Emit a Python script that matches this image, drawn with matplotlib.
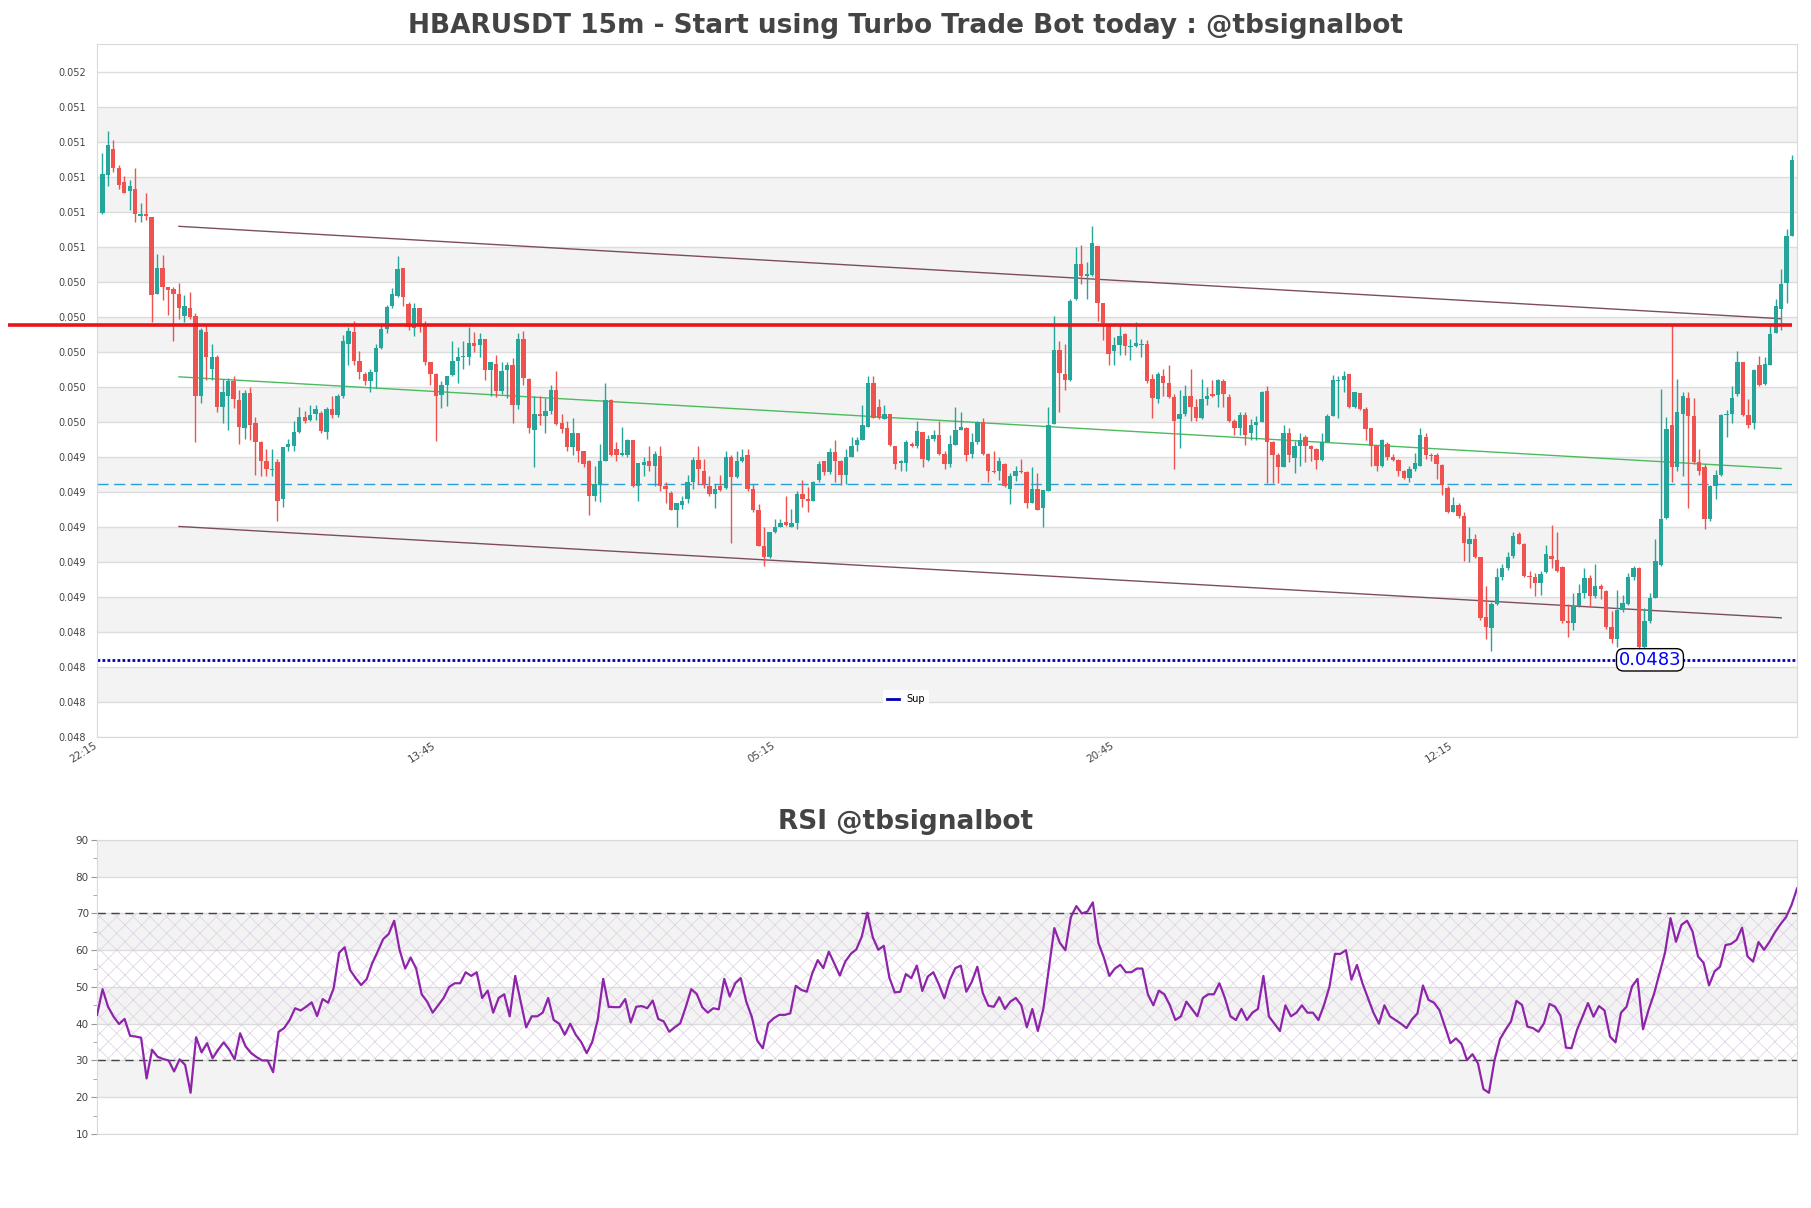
import matplotlib
matplotlib.use('Agg')
import matplotlib.pyplot as plt
import matplotlib.transforms as mtransforms
from matplotlib.lines import Line2D
import numpy as np

title = 'HBARUSDT 15m - Start using Turbo Trade Bot today : @tbsignalbot'
rsi_title = 'RSI @tbsignalbot'

# 15m candles
opens = [
    0.050794, 0.051013, 0.051162, 0.051053, 0.050974, 0.050920, 0.050933, 0.050779, 0.050787, 0.050773,
    0.050329, 0.050480, 0.050370, 0.050360, 0.050333, 0.050206, 0.050251, 0.050204, 0.049750, 0.050116,
    0.049903, 0.049971, 0.049688, 0.049750, 0.049836, 0.049725, 0.049565, 0.049768, 0.049592, 0.049484,
    0.049375, 0.049324, 0.049371, 0.049162, 0.049457, 0.049461, 0.049541, 0.049631, 0.049610, 0.049647,
    0.049651, 0.049541, 0.049674, 0.049641, 0.049750, 0.050046, 0.050114, 0.049950, 0.049877, 0.049836,
    0.049883, 0.050022, 0.050132, 0.050261, 0.050319, 0.050480, 0.050276, 0.050139, 0.050251, 0.050159,
    0.049944, 0.049872, 0.049754, 0.049811, 0.049868, 0.049950, 0.049971, 0.049971, 0.050050, 0.050040,
    0.050073, 0.049899, 0.049930, 0.049776, 0.049899, 0.049928, 0.049698, 0.050073, 0.049846, 0.049555,
    0.049647, 0.049633, 0.049662, 0.049784, 0.049596, 0.049565, 0.049457, 0.049535, 0.049432, 0.049375,
    0.049176, 0.049248, 0.049375, 0.049723, 0.049443, 0.049412, 0.049412, 0.049498, 0.049232, 0.049354,
    0.049375, 0.049350, 0.049406, 0.049232, 0.049197, 0.049095, 0.049125, 0.049162, 0.049258, 0.049381,
    0.049320, 0.049232, 0.049191, 0.049232, 0.049221, 0.049402, 0.049285, 0.049375, 0.049412, 0.049217,
    0.049095, 0.048890, 0.048828, 0.048972, 0.049002, 0.049027, 0.049002, 0.049023, 0.049191, 0.049162,
    0.049150, 0.049268, 0.049375, 0.049314, 0.049428, 0.049375, 0.049299, 0.049402, 0.049469, 0.049498,
    0.049572, 0.049821, 0.049688, 0.049617, 0.049647, 0.049463, 0.049367, 0.049367, 0.049473, 0.049463,
    0.049545, 0.049381, 0.049504, 0.049524, 0.049418, 0.049361, 0.049469, 0.049555, 0.049565, 0.049416,
    0.049484, 0.049600, 0.049416, 0.049320, 0.049320, 0.049361, 0.049217, 0.049293, 0.049320, 0.049314,
    0.049135, 0.049217, 0.049109, 0.049203, 0.049586, 0.050010, 0.049872, 0.049842, 0.050302, 0.050501,
    0.050435, 0.050439, 0.050603, 0.050278, 0.050153, 0.050005, 0.050042, 0.050104, 0.050026, 0.050036,
    0.050042, 0.050046, 0.049846, 0.049729, 0.049862, 0.049821, 0.049743, 0.049617, 0.049647, 0.049750,
    0.049688, 0.049621, 0.049729, 0.049760, 0.049756, 0.049832, 0.049743, 0.049606, 0.049565, 0.049641,
    0.049535, 0.049580, 0.049600, 0.049776, 0.049484, 0.049412, 0.049340, 0.049535, 0.049395, 0.049463,
    0.049514, 0.049463, 0.049443, 0.049381, 0.049484, 0.049637, 0.049832, 0.049842, 0.049872, 0.049688,
    0.049764, 0.049674, 0.049565, 0.049463, 0.049350, 0.049473, 0.049402, 0.049381, 0.049320, 0.049279,
    0.049330, 0.049350, 0.049514, 0.049412, 0.049412, 0.049354, 0.049224, 0.049088, 0.049125, 0.049060,
    0.048900, 0.048931, 0.048828, 0.048487, 0.048425, 0.048562, 0.048716, 0.048767, 0.048835, 0.048962,
    0.048904, 0.048720, 0.048712, 0.048679, 0.048740, 0.048835, 0.048814, 0.048773, 0.048460, 0.048454,
    0.048548, 0.048624, 0.048706, 0.048603, 0.048665, 0.048634, 0.048429, 0.048358, 0.048527, 0.048562,
    0.048712, 0.048767, 0.048317, 0.048460, 0.048597, 0.048781, 0.049054, 0.049580, 0.049340, 0.049647,
    0.049739, 0.049637, 0.049371, 0.049340, 0.049043, 0.049232, 0.049299, 0.049641, 0.049647, 0.049760,
    0.049940, 0.049641, 0.049592, 0.049924, 0.049817, 0.049928, 0.050108, 0.050247, 0.050394, 0.050665,
]
highs = [
    0.051137, 0.051260, 0.051209, 0.051070, 0.051008, 0.050984, 0.051053, 0.050853, 0.050906, 0.050773,
    0.050558, 0.050554, 0.050374, 0.050374, 0.050394, 0.050323, 0.050343, 0.050220, 0.050139, 0.050153,
    0.050046, 0.049985, 0.049846, 0.049852, 0.049862, 0.049780, 0.049780, 0.049801, 0.049627, 0.049494,
    0.049443, 0.049443, 0.049391, 0.049457, 0.049504, 0.049606, 0.049688, 0.049662, 0.049698, 0.049698,
    0.049662, 0.049688, 0.049750, 0.049760, 0.050098, 0.050143, 0.050179, 0.050005, 0.049887, 0.049903,
    0.050046, 0.050163, 0.050268, 0.050368, 0.050548, 0.050480, 0.050288, 0.050282, 0.050251, 0.050179,
    0.049944, 0.049879, 0.049832, 0.049862, 0.050063, 0.050026, 0.050063, 0.050145, 0.050112, 0.050108,
    0.050077, 0.049944, 0.049985, 0.049944, 0.049944, 0.049965, 0.050108, 0.050118, 0.049852, 0.049750,
    0.049750, 0.049735, 0.049811, 0.049891, 0.049647, 0.049606, 0.049621, 0.049535, 0.049436, 0.049381,
    0.049350, 0.049473, 0.049821, 0.049729, 0.049484, 0.049572, 0.049504, 0.049498, 0.049365, 0.049402,
    0.049463, 0.049436, 0.049463, 0.049258, 0.049207, 0.049135, 0.049176, 0.049299, 0.049402, 0.049463,
    0.049391, 0.049289, 0.049248, 0.049299, 0.049432, 0.049412, 0.049436, 0.049443, 0.049443, 0.049248,
    0.049129, 0.049002, 0.048972, 0.049043, 0.049043, 0.049176, 0.049105, 0.049207, 0.049268, 0.049228,
    0.049264, 0.049375, 0.049375, 0.049449, 0.049498, 0.049381, 0.049443, 0.049514, 0.049514, 0.049698,
    0.049862, 0.049862, 0.049729, 0.049698, 0.049647, 0.049463, 0.049381, 0.049498, 0.049484, 0.049606,
    0.049545, 0.049524, 0.049555, 0.049606, 0.049432, 0.049524, 0.049688, 0.049657, 0.049572, 0.049535,
    0.049606, 0.049621, 0.049422, 0.049432, 0.049402, 0.049367, 0.049309, 0.049350, 0.049391, 0.049320,
    0.049340, 0.049309, 0.049211, 0.049688, 0.050206, 0.050063, 0.050046, 0.050302, 0.050599, 0.050609,
    0.050517, 0.050722, 0.050603, 0.050282, 0.050153, 0.050087, 0.050153, 0.050108, 0.050077, 0.050173,
    0.050077, 0.050067, 0.049872, 0.049883, 0.049903, 0.049924, 0.049760, 0.049780, 0.049811, 0.049903,
    0.049729, 0.049846, 0.049801, 0.049842, 0.049846, 0.049846, 0.049760, 0.049617, 0.049657, 0.049657,
    0.049617, 0.049637, 0.049776, 0.049805, 0.049494, 0.049422, 0.049580, 0.049565, 0.049494, 0.049535,
    0.049524, 0.049469, 0.049453, 0.049535, 0.049647, 0.049866, 0.049862, 0.049893, 0.049872, 0.049770,
    0.049764, 0.049688, 0.049565, 0.049469, 0.049504, 0.049484, 0.049416, 0.049391, 0.049326, 0.049350,
    0.049422, 0.049565, 0.049535, 0.049422, 0.049422, 0.049361, 0.049232, 0.049170, 0.049135, 0.049084,
    0.049002, 0.048962, 0.048828, 0.048665, 0.048573, 0.048767, 0.048788, 0.048855, 0.048972, 0.048972,
    0.048910, 0.048747, 0.048736, 0.048747, 0.048896, 0.049013, 0.048972, 0.048777, 0.048562, 0.048624,
    0.048675, 0.048767, 0.048726, 0.048788, 0.048675, 0.048638, 0.048521, 0.048638, 0.048609, 0.048736,
    0.048777, 0.048773, 0.048536, 0.048624, 0.048931, 0.049790, 0.049627, 0.050153, 0.049846, 0.049770,
    0.049770, 0.049739, 0.049443, 0.049361, 0.049238, 0.049326, 0.049647, 0.049668, 0.049805, 0.050005,
    0.049944, 0.049729, 0.049903, 0.049975, 0.049969, 0.050159, 0.050302, 0.050476, 0.050701, 0.051125,
]
lows = [
    0.050787, 0.050947, 0.051029, 0.050933, 0.050906, 0.050814, 0.050742, 0.050742, 0.050753, 0.050169,
    0.050329, 0.050296, 0.050210, 0.050063, 0.050190, 0.050169, 0.050190, 0.049484, 0.049709, 0.049842,
    0.049842, 0.049657, 0.049592, 0.049555, 0.049682, 0.049473, 0.049504, 0.049498, 0.049299, 0.049289,
    0.049289, 0.049289, 0.049033, 0.049115, 0.049432, 0.049432, 0.049535, 0.049596, 0.049606, 0.049610,
    0.049535, 0.049500, 0.049621, 0.049631, 0.049739, 0.049928, 0.049924, 0.049848, 0.049811, 0.049770,
    0.049797, 0.050016, 0.050108, 0.050251, 0.050313, 0.050261, 0.050128, 0.050091, 0.050112, 0.049924,
    0.049811, 0.049494, 0.049682, 0.049692, 0.049862, 0.049821, 0.049903, 0.049924, 0.050001, 0.049969,
    0.049842, 0.049750, 0.049743, 0.049760, 0.049739, 0.049592, 0.049674, 0.049811, 0.049535, 0.049340,
    0.049580, 0.049539, 0.049647, 0.049580, 0.049535, 0.049432, 0.049412, 0.049371, 0.049340, 0.049068,
    0.049150, 0.049142, 0.049375, 0.049408, 0.049375, 0.049408, 0.049402, 0.049228, 0.049150, 0.049289,
    0.049320, 0.049232, 0.049207, 0.049135, 0.049095, 0.049002, 0.049105, 0.049135, 0.049217, 0.049244,
    0.049224, 0.049176, 0.049109, 0.049207, 0.049217, 0.048910, 0.049279, 0.049371, 0.049207, 0.049088,
    0.048890, 0.048777, 0.048822, 0.048966, 0.048998, 0.049006, 0.048998, 0.048986, 0.049115, 0.049088,
    0.049146, 0.049258, 0.049299, 0.049305, 0.049258, 0.049238, 0.049248, 0.049402, 0.049432, 0.049498,
    0.049572, 0.049621, 0.049617, 0.049617, 0.049463, 0.049334, 0.049320, 0.049320, 0.049457, 0.049453,
    0.049340, 0.049375, 0.049494, 0.049412, 0.049334, 0.049340, 0.049469, 0.049555, 0.049375, 0.049395,
    0.049473, 0.049412, 0.049258, 0.049309, 0.049268, 0.049228, 0.049129, 0.049264, 0.049309, 0.049109,
    0.049135, 0.049095, 0.049002, 0.049203, 0.049586, 0.049657, 0.049780, 0.049832, 0.050296, 0.050390,
    0.050302, 0.050435, 0.050179, 0.050067, 0.049924, 0.049924, 0.049985, 0.049985, 0.049954, 0.050026,
    0.049969, 0.049821, 0.049621, 0.049709, 0.049750, 0.049739, 0.049334, 0.049453, 0.049637, 0.049606,
    0.049606, 0.049617, 0.049698, 0.049743, 0.049688, 0.049688, 0.049600, 0.049524, 0.049524, 0.049469,
    0.049498, 0.049498, 0.049600, 0.049252, 0.049252, 0.049252, 0.049340, 0.049371, 0.049309, 0.049350,
    0.049371, 0.049375, 0.049334, 0.049375, 0.049484, 0.049637, 0.049621, 0.049770, 0.049682, 0.049678,
    0.049668, 0.049498, 0.049350, 0.049320, 0.049340, 0.049381, 0.049375, 0.049289, 0.049273, 0.049258,
    0.049320, 0.049346, 0.049391, 0.049375, 0.049273, 0.049183, 0.049080, 0.049084, 0.049054, 0.048808,
    0.048798, 0.048822, 0.048470, 0.048358, 0.048290, 0.048556, 0.048695, 0.048757, 0.048822, 0.048900,
    0.048716, 0.048654, 0.048603, 0.048614, 0.048736, 0.048767, 0.048740, 0.048454, 0.048372, 0.048409,
    0.048542, 0.048593, 0.048542, 0.048597, 0.048589, 0.048419, 0.048337, 0.048317, 0.048515, 0.048556,
    0.048695, 0.048310, 0.048310, 0.048454, 0.048593, 0.048777, 0.049047, 0.049258, 0.049320, 0.049293,
    0.049109, 0.049361, 0.049299, 0.048986, 0.049033, 0.049162, 0.049289, 0.049514, 0.049596, 0.049750,
    0.049637, 0.049565, 0.049559, 0.049805, 0.049811, 0.049924, 0.050108, 0.050128, 0.050282, 0.050665,
]
closes = [
    0.051015, 0.051180, 0.051053, 0.050957, 0.050910, 0.050947, 0.050787, 0.050787, 0.050777, 0.050323,
    0.050480, 0.050370, 0.050353, 0.050329, 0.050251, 0.050261, 0.050200, 0.049750, 0.050124, 0.049969,
    0.049971, 0.049688, 0.049770, 0.049836, 0.049729, 0.049572, 0.049768, 0.049580, 0.049484, 0.049375,
    0.049330, 0.049334, 0.049150, 0.049457, 0.049473, 0.049541, 0.049631, 0.049606, 0.049641, 0.049674,
    0.049549, 0.049674, 0.049641, 0.049750, 0.050063, 0.050118, 0.049948, 0.049883, 0.049836, 0.049887,
    0.050022, 0.050132, 0.050255, 0.050333, 0.050476, 0.050317, 0.050145, 0.050251, 0.050159, 0.049940,
    0.049872, 0.049750, 0.049811, 0.049862, 0.049950, 0.049971, 0.049975, 0.050050, 0.050032, 0.050073,
    0.049899, 0.049944, 0.049776, 0.049889, 0.049928, 0.049698, 0.050073, 0.049852, 0.049565, 0.049647,
    0.049633, 0.049662, 0.049784, 0.049586, 0.049559, 0.049457, 0.049535, 0.049432, 0.049361, 0.049176,
    0.049244, 0.049375, 0.049723, 0.049412, 0.049412, 0.049422, 0.049498, 0.049232, 0.049365, 0.049371,
    0.049350, 0.049416, 0.049232, 0.049217, 0.049095, 0.049135, 0.049150, 0.049258, 0.049381, 0.049330,
    0.049238, 0.049191, 0.049217, 0.049211, 0.049402, 0.049285, 0.049375, 0.049402, 0.049217, 0.049095,
    0.048890, 0.048828, 0.048972, 0.049002, 0.049023, 0.049013, 0.049023, 0.049191, 0.049162, 0.049150,
    0.049258, 0.049361, 0.049314, 0.049428, 0.049375, 0.049299, 0.049402, 0.049463, 0.049498, 0.049580,
    0.049821, 0.049621, 0.049621, 0.049647, 0.049469, 0.049361, 0.049375, 0.049484, 0.049463, 0.049551,
    0.049391, 0.049504, 0.049524, 0.049418, 0.049361, 0.049473, 0.049555, 0.049572, 0.049412, 0.049484,
    0.049600, 0.049416, 0.049320, 0.049314, 0.049375, 0.049232, 0.049293, 0.049320, 0.049314, 0.049135,
    0.049217, 0.049095, 0.049211, 0.049580, 0.050010, 0.049879, 0.049842, 0.050292, 0.050501, 0.050435,
    0.050446, 0.050624, 0.050278, 0.050165, 0.049989, 0.050042, 0.050091, 0.050036, 0.050036, 0.050050,
    0.050046, 0.049832, 0.049739, 0.049872, 0.049821, 0.049743, 0.049606, 0.049647, 0.049750, 0.049688,
    0.049621, 0.049729, 0.049750, 0.049750, 0.049842, 0.049760, 0.049606, 0.049565, 0.049641, 0.049524,
    0.049580, 0.049600, 0.049770, 0.049484, 0.049412, 0.049340, 0.049539, 0.049412, 0.049463, 0.049498,
    0.049463, 0.049443, 0.049381, 0.049484, 0.049637, 0.049842, 0.049842, 0.049862, 0.049688, 0.049770,
    0.049674, 0.049559, 0.049463, 0.049350, 0.049498, 0.049402, 0.049381, 0.049320, 0.049279, 0.049334,
    0.049367, 0.049524, 0.049412, 0.049408, 0.049361, 0.049238, 0.049088, 0.049125, 0.049060, 0.048910,
    0.048931, 0.048828, 0.048480, 0.048429, 0.048562, 0.048716, 0.048767, 0.048828, 0.048951, 0.048904,
    0.048720, 0.048712, 0.048679, 0.048732, 0.048843, 0.048818, 0.048747, 0.048460, 0.048454, 0.048548,
    0.048624, 0.048706, 0.048603, 0.048665, 0.048644, 0.048429, 0.048358, 0.048527, 0.048568, 0.048712,
    0.048767, 0.048317, 0.048460, 0.048597, 0.048808, 0.049047, 0.049559, 0.049340, 0.049657, 0.049750,
    0.049637, 0.049371, 0.049320, 0.049043, 0.049232, 0.049299, 0.049641, 0.049647, 0.049739, 0.049940,
    0.049641, 0.049580, 0.049899, 0.049811, 0.049934, 0.050104, 0.050261, 0.050390, 0.050665, 0.051095,
]

rsi = [
    42.4, 49.4, 44.6, 41.9, 39.9, 41.3, 36.7, 36.5, 36.2, 25.1,
    32.9, 31.0, 30.4, 30.0, 27.0, 30.3, 28.8, 21.2, 36.3, 32.2,
    34.7, 30.6, 32.9, 34.9, 33.0, 30.3, 37.4, 33.8, 32.0, 30.9,
    30.0, 30.0, 26.8, 37.8, 38.8, 41.0, 44.2, 43.6, 44.6, 45.8,
    42.1, 46.7, 45.7, 49.6, 59.3, 60.8, 54.6, 52.4, 50.5, 52.1,
    56.4, 59.6, 63.0, 64.4, 68.0, 60.0, 55.0, 58.0, 55.0, 48.0,
    46.0, 43.0, 45.0, 47.0, 50.0, 51.0, 51.0, 54.0, 53.0, 54.0,
    47.0, 49.0, 43.0, 47.0, 48.0, 42.0, 53.0, 46.0, 39.0, 42.0,
    42.0, 43.0, 47.0, 41.0, 40.0, 37.0, 40.0, 37.0, 35.0, 32.0,
    35.0, 41.0, 52.2, 44.6, 44.5, 44.5, 46.7, 40.3, 44.6, 44.8,
    44.2, 46.3, 41.3, 40.6, 37.8, 39.0, 40.1, 44.5, 49.4, 48.1,
    44.5, 43.0, 44.2, 43.9, 52.2, 47.4, 51.0, 52.4, 46.0, 41.9,
    35.4, 33.3, 40.1, 41.5, 42.4, 42.4, 42.8, 50.3, 49.2, 48.7,
    53.7, 57.3, 55.1, 59.6, 56.4, 53.1, 56.9, 59.0, 60.2, 63.7,
    70.2, 63.5, 60.1, 61.2, 52.6, 48.5, 48.7, 53.5, 52.4, 55.8,
    48.9, 52.8, 54.0, 50.7, 46.9, 51.9, 55.1, 55.8, 48.7, 51.4,
    55.5, 48.3, 44.9, 44.6, 47.2, 44.0, 46.0, 47.0, 45.0, 39.0,
    44.0, 38.0, 44.0, 55.0, 66.0, 62.0, 60.0, 69.0, 72.0, 70.0,
    70.5, 73.0, 62.0, 58.0, 53.0, 55.0, 56.0, 54.0, 54.0, 55.0,
    55.0, 48.0, 45.0, 49.0, 48.0, 45.0, 41.0, 42.0, 46.0, 44.0,
    42.0, 47.0, 48.0, 48.0, 51.0, 47.0, 42.0, 41.0, 44.0, 41.0,
    43.0, 44.0, 53.0, 42.0, 40.0, 38.0, 45.0, 42.0, 43.0, 45.0,
    43.0, 43.0, 41.0, 45.0, 50.0, 59.0, 59.0, 60.0, 52.0, 56.0,
    51.0, 47.0, 43.0, 40.0, 45.0, 42.0, 41.0, 40.0, 38.8, 41.2,
    42.8, 50.4, 46.5, 45.7, 43.7, 39.2, 34.7, 36.0, 34.5, 30.1,
    31.7, 29.2, 22.2, 21.2, 30.0, 35.8, 38.3, 40.6, 46.2, 45.1,
    39.2, 38.8, 37.8, 40.1, 45.4, 44.6, 42.2, 33.5, 33.3, 38.3,
    41.9, 45.6, 41.9, 44.8, 43.6, 36.5, 34.9, 43.0, 44.6, 50.1,
    52.2, 38.5, 43.7, 48.1, 53.7, 59.3, 68.7, 62.3, 66.9, 68.0,
    65.1, 58.3, 56.6, 50.4, 54.2, 55.5, 61.4, 61.7, 62.8, 66.1,
    58.3, 56.9, 62.2, 60.1, 62.3, 64.9, 67.1, 69.0, 72.3, 76.8,
]

ytick_vals = [0.0478, 0.0480, 0.0482, 0.0484, 0.0486, 0.0488, 0.0490, 0.0492, 0.0494, 0.0496,
              0.0498, 0.0500, 0.0502, 0.0504, 0.0506, 0.0508, 0.0510, 0.0512, 0.0514, 0.0516]
xtick_pos = [0, 62, 124, 186, 248]
xtick_labels = ['22:15', '13:45', '05:15', '20:45', '12:15']

res_level = 0.050153
mid_level = 0.049244
sup_level = 0.048241
sup_text = '0.0483'

chan_x = [14, 307]
chan_upper = [0.050718, 0.050190]
chan_middle = [0.049858, 0.049334]
chan_lower = [0.049003, 0.048481]

rsi_ticks = [10, 20, 30, 40, 50, 60, 70, 80, 90]

GREEN = '#26a69a'
RED = '#ef5350'
TXT = '#444444'
GRID = '#dcdcdc'
BAND = '#f3f3f3'

fig = plt.figure(figsize=(18.11, 12.08), dpi=100)
ax = fig.add_axes([0.0536, 0.3899, 0.9387, 0.5737])
ax2 = fig.add_axes([0.0536, 0.0613, 0.9387, 0.2434])
title_x = (0.5 - 0.0536) / 0.9387   # titles are centred on the figure

# ---- price panel ----
o = np.array(opens)
h = np.array(highs)
l = np.array(lows)
c = np.array(closes)
x = np.arange(len(c))
cols = np.where(c >= o, GREEN, RED)

ax.set_xlim(-0.97, 309.9)
ax.set_ylim(0.0478, 0.05176)

for lo in ytick_vals[1:18:2]:
    ax.axhspan(lo, lo + 0.0002, color=BAND, zorder=0, lw=0)

ax.vlines(x, l, h, colors=cols, lw=1.0, zorder=3)
body = np.maximum(np.abs(c - o), 0.000003)
ax.bar(x, body, bottom=np.minimum(o, c), width=0.8, color=cols, lw=0, zorder=4)

ax.plot(chan_x, chan_upper, color='#7d4d5f', lw=1.0, zorder=2)
ax.plot(chan_x, chan_lower, color='#7d4d5f', lw=1.0, zorder=2)
ax.plot(chan_x, chan_middle, color='#4cbb5e', lw=1.0, zorder=2)

ax.hlines(res_level, -17.2, 309, color='#e8151b', lw=2.6, zorder=5, clip_on=False)
ax.axhline(mid_level, color='#2a9fd6', lw=1.0, ls=(0, (8, 4)), zorder=2)
ax.axhline(sup_level, color='#0000b8', lw=2.0, ls=(0, (1, 0.8)), zorder=2)
ax.text(283, sup_level, sup_text, color='#0000ff', fontsize=13, ha='center', va='center', zorder=6,
        bbox=dict(boxstyle='round,pad=0.12,rounding_size=0.4', fc='white', ec='black', lw=1))

ax.set_yticks(ytick_vals)
ax.set_yticklabels(['%.3f' % v for v in ytick_vals])
ax.tick_params(axis='y', length=0, pad=8, labelsize=7, labelcolor=TXT)

# time labels drawn as text so they can sit a little left of their candle
ax.set_xticks([])
lab_tr = ax.get_xaxis_transform() + mtransforms.ScaledTranslation(-0.09, -0.03, fig.dpi_scale_trans)
for pos, lab in zip(xtick_pos, xtick_labels):
    ax.text(pos, 0, lab, transform=lab_tr, rotation=32, ha='right', va='top',
            rotation_mode='anchor', fontsize=7.5, color=TXT, clip_on=False)

ax.yaxis.grid(True, color=GRID, lw=1.0, zorder=1)
ax.set_axisbelow(True)
for s in ax.spines.values():
    s.set_color('#d9d9d9')
ax.set_title(title, fontsize=19, fontweight='bold', color=TXT, pad=8, x=title_x)
sup_handle = Line2D([], [], color='#0000b8', lw=2)
ax.legend([sup_handle], ['Sup'], loc='lower center', bbox_to_anchor=(0.476, 0.035), fontsize=7,
          frameon=True, edgecolor='none', facecolor='white', framealpha=1, handlelength=1.2)

# ---- RSI panel ----
xr = np.arange(len(rsi))
ax2.set_xlim(0, len(rsi) - 1)
ax2.set_ylim(10, 90)
for lo in [20, 40, 60, 80]:
    ax2.axhspan(lo, lo + 10, color=BAND, zorder=0, lw=0)
plt.rcParams['hatch.linewidth'] = 0.5
ax2.fill_between([0, len(rsi) - 1], 30, 70, facecolor='none', hatch='xx', edgecolor='#dccfe2',
                 lw=0, zorder=1)
ax2.axhline(70, color='#444444', lw=1.0, ls=(0, (6, 4)), zorder=2)
ax2.axhline(30, color='#444444', lw=1.0, ls=(0, (6, 4)), zorder=2)
ax2.plot(xr, rsi, color='#8e24aa', lw=1.6, zorder=3)

ax2.set_yticks(rsi_ticks)
ax2.set_yticks(np.arange(15, 90, 10), minor=True)
ax2.set_xticks([])
ax2.tick_params(axis='y', which='major', length=4, color='#999999', labelsize=7.5, labelcolor=TXT, pad=2)
ax2.tick_params(axis='y', which='minor', length=3, color='#999999')
ax2.yaxis.grid(True, color=GRID, lw=1.0, zorder=1)
ax2.set_axisbelow(True)
for s in ax2.spines.values():
    s.set_color('#d9d9d9')
ax2.set_title(rsi_title, fontsize=19, fontweight='bold', color=TXT, pad=8, x=title_x)

fig.savefig('out.png', dpi=100)
